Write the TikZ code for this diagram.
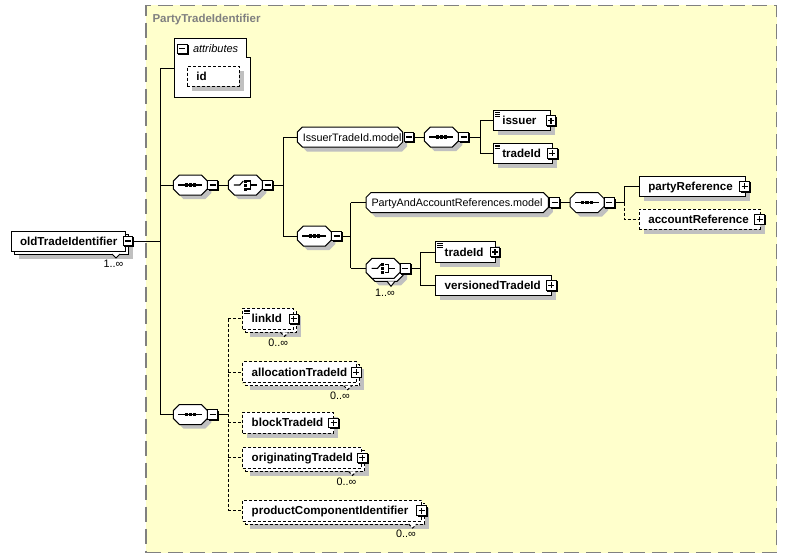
\documentclass[tikz,border=0pt]{standalone}
\usepackage{fontspec}
\setmainfont{Liberation Sans}
\definecolor{bgy}{HTML}{FFFFCC}
\definecolor{shd}{HTML}{C0C0C0}
\definecolor{brd}{HTML}{808080}
\tikzset{
  edash/.style={dash pattern=on 3pt off 2pt},
  esolid/.style={solid},
  conn/.style={line width=1pt},
  oconn/.style={line width=1pt, dash pattern=on 3pt off 2pt},
  nsep/.style={inner sep=0, outer sep=0},
  elname/.style={font=\fontsize{11.6}{13}\selectfont\bfseries, anchor=base west, inner sep=0, outer sep=0},
  reglab/.style={font=\fontsize{10.8}{13}\selectfont, anchor=base west, inner sep=0, outer sep=0},
  occ/.style={font=\fontsize{10.8}{12}\selectfont, anchor=base west, inner sep=0, outer sep=0},
}
\newcommand\octp[5]{({#1+#5},{#2}) -- ({#3-#5},{#2}) -- ({#3},{#2+#5}) -- ({#3},{#4-#5}) -- ({#3-#5},{#4}) -- ({#1+#5},{#4}) -- ({#1},{#4-#5}) -- ({#1},{#2+#5}) -- cycle}
\newcommand\xminus[3]{%
  \fill[black] ({#2-4},{#3-4}) rectangle ({#2+6.2},{#3+6.2});
  \node[draw, fill=white, line width=1pt, minimum size=9.6pt, nsep] (#1) at ({#2},{#3}) {};
  \draw[line width=1.1pt] ({#2-3},{#3}) -- ({#2+3},{#3});
}
\newcommand\xplus[3]{%
  \xminus{#1}{#2}{#3}%
  \draw[line width=1.1pt] ({#2},{#3-3}) -- ({#2},{#3+3});
}
\newcommand\xsimple[2]{%
  \draw[line width=0.7pt] ({#1+1.5},{#2+1.7}) -- ({#1+6.8},{#2+1.7})
    ({#1+1.5},{#2+3.5}) -- ({#1+6.8},{#2+3.5})
    ({#1+1.5},{#2+5.3}) -- ({#1+6.8},{#2+5.3});
}
% element: name, x1, y1, x2, y2, text, border style, stacked, simple
\newcommand\xel[9]{%
  \ifnum#8=1
    \fill[shd] ({#2+7.5},{#3+7.5}) rectangle ({#4+7.5},{#5+7.5});
    \draw[line width=1pt, #7, fill=white] ({#2+3},{#3+3}) rectangle ({#4+3},{#5+3});
    \draw[line width=1pt, #7, fill=white] ({#4-13},{#5+3}) -- ({#4-9},{#5+7}) -- ({#4-5},{#5+3});
  \else
    \fill[shd] ({#2+4.5},{#3+4.5}) rectangle ({#4+4.5},{#5+4.5});
  \fi
  \node[draw, line width=1pt, #7, fill=white, nsep, anchor=north west, minimum width={#4-#2}, minimum height={#5-#3}] (#1) at ({#2},{#3}) {};
  \ifnum#9=1 \xsimple{#2}{#3}\fi
  \node[elname] (#1-t) at ({#2+9},{(#3+#5)/2+4}) {#6};
}
\newcommand\seqicon[2]{%
  \draw[line width=1.1pt] ({#1-12},{#2}) -- ({#1+12},{#2});
  \foreach \qq in {-4.2,0,4.2} \fill ({#1+\qq-1.6},{#2-1.6}) rectangle ({#1+\qq+1.6},{#2+1.6});
}
\newcommand\choiceicon[2]{%
  \draw[line width=1.1pt] ({#1-11.5},{#2}) -- ({#1-5.5},{#2}) -- ({#1-2},{#2-4});
  \foreach \qq in {-4,0,4} \fill ({#1-1.6},{#2+\qq-1.5}) rectangle ({#1+1.4},{#2+\qq+1.5});
  \draw[line width=1.1pt] ({#1+1.8},{#2-4}) -- ({#1+5.5},{#2-4}) -- ({#1+5.5},{#2+4}) -- ({#1+1.8},{#2+4})
    ({#1+5.5},{#2}) -- ({#1+11.5},{#2});
}
% compositor: name, x1, yc, type (1 seq, 2 choice), stacked
\newcommand\xcomp[5]{%
  \ifnum#5=1
    \fill[shd] \octp{#2+7}{#3-3}{#2+41}{#3+17}{6};
    \draw[line width=1pt, fill=white] \octp{#2+3}{#3-7}{#2+37}{#3+13}{6};
    \draw[line width=1pt, fill=white] ({#2+21},{#3+13}) -- ({#2+25},{#3+18}) -- ({#2+29},{#3+13});
  \else
    \fill[shd] \octp{#2+4}{#3-6}{#2+38}{#3+14}{6};
  \fi
  \draw[line width=1pt, fill=white] \octp{#2}{#3-10}{#2+34}{#3+10}{6};
  \node[nsep, minimum width=34pt, minimum height=20pt, anchor=west] (#1) at ({#2},{#3}) {};
  \ifnum#4=1 \seqicon{#2+17}{#3}\else \choiceicon{#2+17}{#3}\fi
  \xminus{#1m}{#2+39.3}{#3}
}
% group: name, x1, x2, yc, text
\newcommand\xgroup[5]{%
  \fill[shd] \octp{#2+4.5}{#4-5.5}{#3+4.5}{#4+14.5}{5};
  \draw[line width=1pt, fill=white] \octp{#2}{#4-10}{#3}{#4+10}{5};
  \node[nsep, minimum width={#3-#2}, minimum height=20pt, anchor=west] (#1) at ({#2},{#4}) {};
  \node[reglab] (#1-t) at ({#2+5.5},{#4+4}) {#5};
  \xminus{#1m}{#3+6.3}{#4}
}
\begin{document}
\begin{tikzpicture}[x=1pt,y=-1pt]
\useasboundingbox (0,0) rectangle (788,558);
\fill[white] (0,0) rectangle (788,558);
\node[draw=brd, fill=bgy, line width=1.4pt, dash pattern=on 15pt off 7pt, anchor=north west,
  minimum width=630.7pt, minimum height=547.4pt, nsep] (outer) at (146,5.3) {};
\node[font=\fontsize{11.5}{13}\selectfont\bfseries, text=brd, anchor=base west, nsep] (title) at (152.5,22.6) {PartyTradeIdentifier};

% oldTradeIdentifier
\xel{old}{11}{231}{125}{251}{oldTradeIdentifier}{esolid}{1}{0}
\xminus{oldm}{128}{241}
\node[occ] (oldocc) at (103.5,267) {1..∞};

% attributes
\draw[line width=1pt, fill=white] (174,38) -- (246,38) -- (246,57) -- (250,57) -- (250,97) -- (174,97) -- cycle;
\node[nsep, minimum width=76pt, minimum height=59pt, anchor=north west] (attr) at (174,38) {};
\xminus{attrm}{182.3}{48.8}
\node[reglab, font=\fontsize{11}{13}\selectfont\itshape] (attrt) at (193,52.3) {attributes};
\xel{id}{187.3}{66}{239}{86}{id}{edash}{0}{0}

% compositors and groups
\xcomp{seqA}{173.3}{185}{1}{0}
\xcomp{choA}{228.3}{185}{2}{0}
\xgroup{grpA}{297.3}{402.7}{137}{IssuerTradeId.model}
\xcomp{seqB}{424.3}{137}{1}{0}
\xel{issuer}{493.3}{110.7}{550.7}{130.7}{issuer}{esolid}{0}{1}
\xplus{issuerp}{551}{120.7}
\xel{tidA}{493.3}{143.3}{552.3}{163.3}{tradeId}{esolid}{0}{1}
\xplus{tidAp}{552.3}{153.3}
\xcomp{seqC}{297.3}{236}{1}{0}
\xgroup{grpB}{366}{548.3}{202.5}{PartyAndAccountReferences.model}
\xcomp{seqD}{570}{202.5}{1}{0}
\xel{pref}{639.3}{176}{745}{196.7}{partyReference}{esolid}{0}{0}
\xplus{prefp}{744.5}{186.3}
\xel{aref}{639.3}{209}{760}{229.3}{accountReference}{edash}{0}{0}
\xplus{arefp}{759.5}{219.2}
\xcomp{choB}{366}{268.3}{2}{1}
\node[occ] (choBocc) at (375,296.5) {1..∞};
\xel{tidB}{435.7}{241.7}{495}{262.3}{tradeId}{esolid}{0}{1}
\xplus{tidBp}{495}{252}
\xel{vtid}{435.7}{275}{551}{295.5}{versionedTradeId}{esolid}{0}{0}
\xplus{vtidp}{551.3}{285.3}
\xcomp{seqE}{173.3}{414.5}{1}{0}
\xel{link}{242.7}{308.3}{293.5}{329.3}{linkId}{edash}{1}{1}
\xplus{linkp}{293.8}{318.8}
\node[occ] (linkocc) at (268.3,346) {0..∞};
\xel{alloc}{242.7}{361.7}{356.7}{382.7}{allocationTradeId}{edash}{1}{0}
\xplus{allocp}{356.2}{372.2}
\node[occ] (allococc) at (330,399) {0..∞};
\xel{block}{242.7}{412.3}{333.5}{433.3}{blockTradeId}{edash}{0}{0}
\xplus{blockp}{333.7}{422.8}
\xel{orig}{242.7}{447.3}{361.5}{468.3}{originatingTradeId}{edash}{1}{0}
\xplus{origp}{362.3}{457.8}
\node[occ] (origocc) at (336.7,485) {0..∞};
\xel{prod}{242.7}{500}{421.7}{521}{productComponentIdentifier}{edash}{1}{0}
\xplus{prodp}{421.5}{510.5}
\node[occ] (prodocc) at (396,537) {0..∞};

% connectors
\coordinate (vA) at (160,68);
\draw[conn] (oldm.east) -- (oldm.east -| vA);
\draw[conn] (vA) -- (vA |- seqE.west);
\draw[conn] (vA) -- (attr.west |- vA);
\draw[conn] (vA |- seqA.west) -- (seqA.west);
\draw[conn] (vA |- seqE.west) -- (seqE.west);
\draw[conn] (seqAm.east) -- (choA.west);
\coordinate (vB) at (283,185);
\draw[conn] (choAm.east) -- (vB);
\draw[conn] (vB |- grpA.west) -- (vB |- seqC.west);
\draw[conn] (vB |- grpA.west) -- (grpA.west);
\draw[conn] (vB |- seqC.west) -- (seqC.west);
\draw[conn] (grpAm.east) -- (seqB.west);
\coordinate (vC) at (480,137);
\draw[conn] (seqBm.east) -- (vC);
\draw[conn] (vC |- issuer.west) -- (vC |- tidA.west);
\draw[conn] (vC |- issuer.west) -- (issuer.west);
\draw[conn] (vC |- tidA.west) -- (tidA.west);
\coordinate (vD) at (350.7,236);
\draw[conn] (seqCm.east) -- (vD);
\draw[conn] (vD |- grpB.west) -- (vD |- choB.west);
\draw[conn] (vD |- grpB.west) -- (grpB.west);
\draw[conn] (vD |- choB.west) -- (choB.west);
\draw[conn] (grpBm.east) -- (seqD.west);
\coordinate (vE) at (624.3,202.5);
\draw[conn] (seqDm.east) -- (vE);
\draw[conn] (vE) -- (vE |- pref.west) -- (pref.west);
\draw[oconn] (vE) -- (vE |- aref.west) -- (aref.west);
\coordinate (vF) at (420,268.3);
\draw[conn] (choBm.east) -- (vF);
\draw[conn] (vF |- tidB.west) -- (vF |- vtid.west);
\draw[conn] (vF |- tidB.west) -- (tidB.west);
\draw[conn] (vF |- vtid.west) -- (vtid.west);
\coordinate (vG) at (228.3,414.5);
\draw[conn] (seqEm.east) -- (vG);
\draw[oconn] (vG |- link.west) -- (vG |- prod.west);
\draw[oconn] (vG |- link.west) -- (link.west);
\draw[oconn] (vG |- alloc.west) -- (alloc.west);
\draw[oconn] (vG |- block.west) -- (block.west);
\draw[oconn] (vG |- orig.west) -- (orig.west);
\draw[oconn] (vG |- prod.west) -- (prod.west);
\end{tikzpicture}
\end{document}
